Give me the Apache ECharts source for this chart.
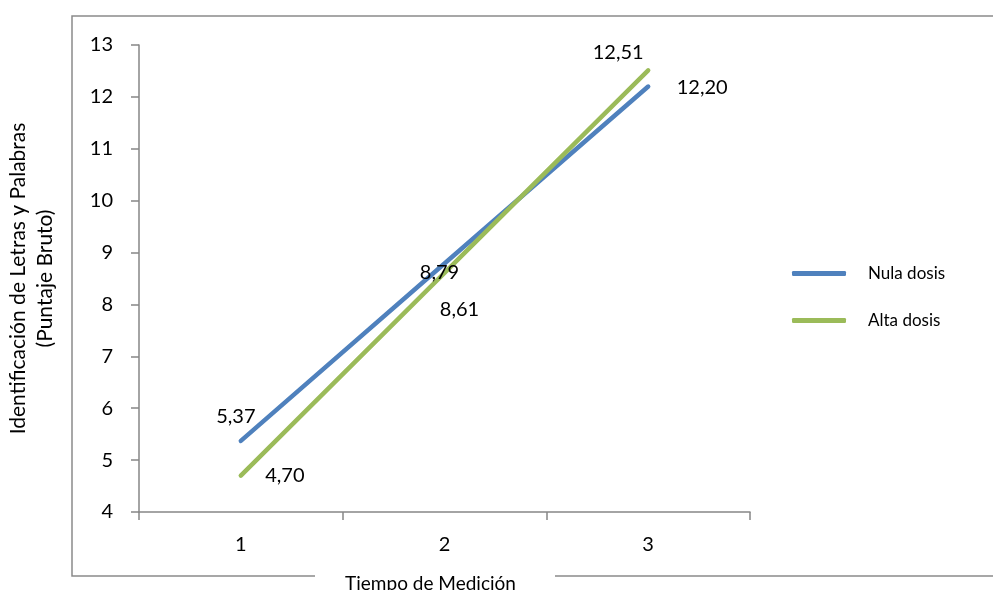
<!DOCTYPE html>
<html>
<head>
<meta charset="utf-8">
<script src="https://cdn.jsdelivr.net/npm/echarts@6/dist/echarts.min.js"></script>
<style>html,body{margin:0;padding:0;background:#fff}#c{width:993px;height:590px}</style>
</head>
<body>
<div id="c"></div>
<script>
var categories = ['1', '2', '3'];
var nulaDosis = [5.37, 8.79, 12.20];
var altaDosis = [4.70, 8.61, 12.51];
var seriesNames = ['Nula dosis', 'Alta dosis'];
var nulaOffsets = [[-5, -24], [-5, 9], [54, 1]];
var altaOffsets = [[44, 0], [15, 37], [-30, -18]];

var FONT = 'Lato, "Open Sans", sans-serif';
function fmt(v) { return v.toFixed(2).replace('.', ','); }
function build(vals, offs) {
  return vals.map(function (v, i) {
    return { value: v, label: { offset: offs[i] } };
  });
}
var chart = echarts.init(document.getElementById('c'), null, { renderer: 'canvas' });
var axisColor = '#868686';
chart.setOption({
  animation: false,
  backgroundColor: '#fff',
  grid: { left: 139, right: 243, top: 45, bottom: 78, containLabel: false, outerBoundsMode: 'none' },
  legend: {
    orient: 'vertical', left: 787, top: 260, itemWidth: 54, itemHeight: 5, itemGap: 30,
    icon: 'roundRect',
    data: seriesNames,
    textStyle: { fontFamily: FONT, fontSize: 17, color: '#000', padding: [0, 0, 0, 17] }
  },
  xAxis: {
    type: 'category', data: categories, boundaryGap: true,
    name: 'Tiempo de Medición', nameLocation: 'middle', nameGap: 62,
    nameTextStyle: { fontFamily: FONT, fontSize: 19, color: '#000', padding: [0, 28, 0, 0] },
    axisLine: { lineStyle: { color: axisColor, width: 1.5 } },
    axisTick: { show: true, length: 8, lineStyle: { color: axisColor, width: 1.5 } },
    axisLabel: { fontFamily: FONT, fontSize: 20, color: '#000', margin: 23 }
  },
  yAxis: {
    type: 'value', min: 4, max: 13, interval: 1,
    name: 'Identificación de Letras y Palabras\n(Puntaje Bruto)', nameLocation: 'middle', nameGap: 80,
    nameTextStyle: { fontFamily: FONT, fontSize: 21, color: '#000', lineHeight: 27 },
    axisLine: { show: true, lineStyle: { color: axisColor, width: 1.5 } },
    axisTick: { show: true, length: 8, lineStyle: { color: axisColor, width: 1.5 } },
    splitLine: { show: false },
    axisLabel: { fontFamily: FONT, fontSize: 20, color: '#000', margin: 26 }
  },
  graphic: [
    { type: 'polyline', z: -1, shape: { points: [[555, 576], [993, 576]] }, style: { stroke: '#8a8a8a', lineWidth: 1.5 } },
    { type: 'polyline', z: -1, shape: { points: [[315, 576], [72, 576], [72, 16], [993, 16]] }, style: { stroke: '#8a8a8a', lineWidth: 1.5, fill: null } }
  ],
  series: [
    {
      name: seriesNames[0], type: 'line', data: build(nulaDosis, nulaOffsets),
      color: '#4F81BD', symbol: 'circle', symbolSize: 2, itemStyle: { color: '#4F81BD' },
      lineStyle: { width: 4.5, color: '#4F81BD', cap: 'round' },
      label: { show: true, position: 'inside', fontFamily: FONT, fontSize: 20, color: '#000', formatter: function (p) { return fmt(p.value); } }
    },
    {
      name: seriesNames[1], type: 'line', data: build(altaDosis, altaOffsets),
      color: '#9BBB59', symbol: 'circle', symbolSize: 2, itemStyle: { color: '#9BBB59' },
      lineStyle: { width: 4.5, color: '#9BBB59', cap: 'round' },
      label: { show: true, position: 'inside', fontFamily: FONT, fontSize: 20, color: '#000', formatter: function (p) { return fmt(p.value); } }
    }
  ]
});
</script>
</body>
</html>
